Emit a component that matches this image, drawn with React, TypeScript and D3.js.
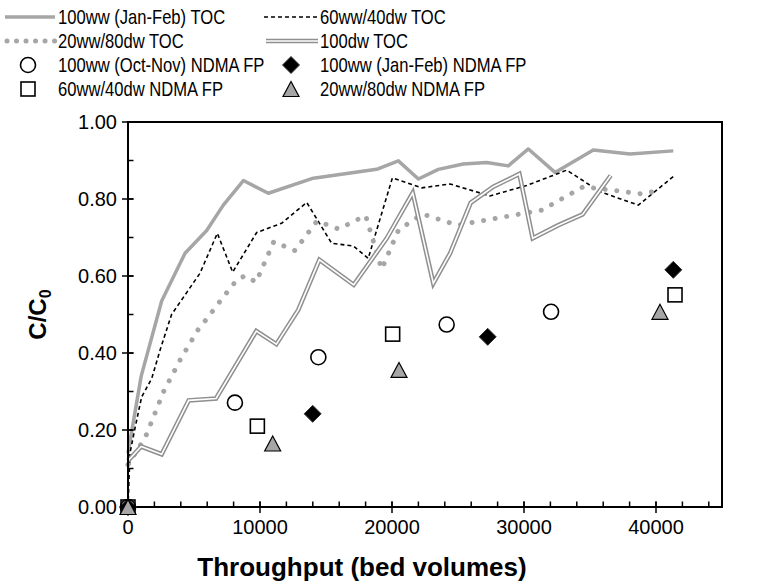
import React from 'react';
import * as d3 from 'd3';

// ---- data (throughput in bed volumes, C/C0) ----
const toc100wwJanFeb: [number, number][] = [
  [0, 0.14], [1000, 0.34], [2550, 0.535], [4320, 0.659], [5960, 0.718], [7220, 0.784],
  [8740, 0.848], [10630, 0.815], [14040, 0.854], [18840, 0.877], [20480, 0.899],
  [22000, 0.852], [23510, 0.877], [25400, 0.891], [27170, 0.895], [28810, 0.886],
  [30330, 0.93], [32350, 0.869], [35250, 0.927], [38030, 0.917], [41310, 0.925],
];
const toc60ww40dw: [number, number][] = [
  [0, 0.0], [150, 0.14], [530, 0.205], [1035, 0.286], [1800, 0.334], [2450, 0.41],
  [3300, 0.5], [5450, 0.607], [6770, 0.711], [7930, 0.61], [9750, 0.713], [11640, 0.737],
  [13540, 0.791], [15430, 0.685], [17070, 0.678], [18200, 0.646], [20030, 0.855],
  [22250, 0.829], [24400, 0.839], [27420, 0.808], [30200, 0.835], [33240, 0.875],
  [35760, 0.819], [38660, 0.784], [41440, 0.862],
];
const toc20ww80dw: [number, number][] = [
  [0, 0.11], [1300, 0.18], [2700, 0.3], [4000, 0.385], [5300, 0.46], [6000, 0.49],
  [7100, 0.54], [8250, 0.59], [8900, 0.601], [9700, 0.584], [11040, 0.689], [12650, 0.666],
  [14320, 0.743], [15960, 0.722], [18000, 0.757], [19220, 0.618], [20500, 0.72],
  [22300, 0.761], [24950, 0.732], [31340, 0.771], [34500, 0.832], [39000, 0.813],
  [40000, 0.821],
];
const toc100dw: [number, number][] = [
  [0, 0.12], [1000, 0.157], [2550, 0.137], [4600, 0.277], [6670, 0.282], [9720, 0.457],
  [11240, 0.423], [12900, 0.512], [14500, 0.642], [17100, 0.577], [19600, 0.698],
  [21570, 0.816], [23130, 0.581], [24400, 0.659], [25960, 0.79], [27680, 0.832],
  [29650, 0.865], [30660, 0.698], [32600, 0.732], [34440, 0.76], [36570, 0.861],
];
const ndma100wwOctNov: [number, number][] = [[0, 0], [8100, 0.271], [14420, 0.389], [24140, 0.474], [32050, 0.507]];
const ndma100wwJanFeb: [number, number][] = [[0, 0], [13990, 0.242], [27250, 0.442], [41310, 0.616]];
const ndma60ww40dw: [number, number][] = [[0, 0], [9800, 0.21], [20050, 0.449], [41440, 0.551]];
const ndma20ww80dw: [number, number][] = [[0, 0], [10960, 0.165], [20530, 0.356], [40300, 0.507]];

const xTicks = [0, 10000, 20000, 30000, 40000];
const yTicks = [0, 0.2, 0.4, 0.6, 0.8, 1.0];
const xMinor = d3.range(0, 45001, 2000);
const yMinor = d3.range(0, 1.001, 0.1);

const W = 776, H = 587;
const L = 128, R = 722, T = 122, B = 507;
const FONT = '"Liberation Sans", Arial, sans-serif';
const GRAY = '#a6a6a6';
const DGRAY = '#8f8f8f';

const x = d3.scaleLinear().domain([0, 45000]).range([L, R]);
const y = d3.scaleLinear().domain([0, 1]).range([B, T]);
const line = d3.line<[number, number]>().x(d => x(d[0])).y(d => y(d[1]));

function Circle({ cx, cy }: { cx: number; cy: number }) {
  return <circle cx={cx} cy={cy} r={7.5} fill="none" stroke="#000" strokeWidth={1.6} />;
}
function Diamond({ cx, cy }: { cx: number; cy: number }) {
  const s = 8.5;
  return <path d={`M${cx},${cy - s}L${cx + s},${cy}L${cx},${cy + s}L${cx - s},${cy}Z`} fill="#000" stroke="#333" strokeWidth={1} />;
}
function Square({ cx, cy }: { cx: number; cy: number }) {
  const s = 7;
  return <rect x={cx - s} y={cy - s} width={2 * s} height={2 * s} fill="none" stroke="#000" strokeWidth={1.6} />;
}
function Triangle({ cx, cy }: { cx: number; cy: number }) {
  const w = 8, h = 7.5;
  return <path d={`M${cx},${cy - h}L${cx + w},${cy + h}L${cx - w},${cy + h}Z`} fill={GRAY} stroke="#000" strokeWidth={1.2} />;
}

function DoubleLine({ d }: { d: string }) {
  return (
    <g fill="none" strokeLinejoin="miter">
      <path d={d} stroke={DGRAY} strokeWidth={4.6} />
      <path d={d} stroke="#fff" strokeWidth={1.6} />
    </g>
  );
}

function LegendText({ x0, y0, label }: { x0: number; y0: number; label: string }) {
  return (
    <text transform={`translate(${x0},${y0}) scale(0.83,1)`} dy="0.36em" fontSize={20} fill="#000">{label}</text>
  );
}

export default function App() {
  const r1 = 17, r2 = 41, r3 = 65, r4 = 89;
  const c1 = 58, c2 = 320;
  return (
    <svg width={W} height={H} style={{ position: 'absolute', left: 0, top: 0, background: '#fff' }} fontFamily={FONT}>
      <rect width={W} height={H} fill="#fff" />
      {/* series lines */}
      <path d={line(toc100wwJanFeb)!} fill="none" stroke={GRAY} strokeWidth={3.5} strokeLinejoin="round" />
      <path d={line(toc60ww40dw)!} fill="none" stroke="#000" strokeWidth={1.6} strokeDasharray="4 3" />
      <path d={line(toc20ww80dw)!} fill="none" stroke={GRAY} strokeWidth={5} strokeLinecap="round" strokeDasharray="0.01 11.7" />
      <DoubleLine d={line(toc100dw)!} />

      {/* axes & frame */}
      <rect x={L} y={T} width={R - L} height={B - T} fill="none" stroke="#000" strokeWidth={2} />
      {xMinor.map(v => <line key={'xm' + v} x1={x(v)} x2={x(v)} y1={B} y2={B - 5.5} stroke="#000" strokeWidth={1.5} />)}
      {xTicks.map(v => <line key={'xt' + v} x1={x(v)} x2={x(v)} y1={B - 5.5} y2={B + 6} stroke="#000" strokeWidth={1.5} />)}
      {yMinor.map(v => <line key={'ym' + v} x1={L} x2={L + 5.5} y1={y(v)} y2={y(v)} stroke="#000" strokeWidth={1.5} />)}
      {yTicks.map(v => <line key={'yt' + v} x1={L - 6} x2={L + 5.5} y1={y(v)} y2={y(v)} stroke="#000" strokeWidth={1.5} />)}

      {xTicks.map(v => (
        <text key={'xl' + v} x={x(v)} y={B + 27} textAnchor="middle" fontSize={20} fill="#000">{String(v)}</text>
      ))}
      {yTicks.map(v => (
        <text key={'yl' + v} x={L - 11} y={y(v)} dy="0.35em" textAnchor="end" fontSize={20} fill="#000">{v.toFixed(2)}</text>
      ))}
      <text x={362} y={576} textAnchor="middle" fontSize={26} fontWeight="bold" fill="#000">Throughput (bed volumes)</text>
      <text transform={`translate(46,${(T + B) / 2}) rotate(-90)`} textAnchor="middle" fontSize={24} fontWeight="bold" fill="#000">
        C/C<tspan fontSize={16} dy="5">0</tspan>
      </text>

      {/* markers */}
      {ndma100wwOctNov.map((d, i) => <Circle key={'c' + i} cx={x(d[0])} cy={y(d[1])} />)}
      {ndma100wwJanFeb.map((d, i) => <Diamond key={'d' + i} cx={x(d[0])} cy={y(d[1])} />)}
      {ndma60ww40dw.map((d, i) => <Square key={'s' + i} cx={x(d[0])} cy={y(d[1])} />)}
      {ndma20ww80dw.map((d, i) => <Triangle key={'t' + i} cx={x(d[0])} cy={y(d[1])} />)}

      {/* legend */}
      <g>
        <line x1={5} x2={55} y1={r1} y2={r1} stroke={GRAY} strokeWidth={3.5} />
        <LegendText x0={c1} y0={r1} label="100ww (Jan-Feb) TOC" />
        <line x1={264} x2={318} y1={r1} y2={r1} stroke="#000" strokeWidth={1.6} strokeDasharray="4 3" />
        <LegendText x0={c2} y0={r1} label="60ww/40dw TOC" />
        <line x1={7} x2={55} y1={r2} y2={r2} stroke={GRAY} strokeWidth={5} strokeLinecap="round" strokeDasharray="0.01 9.5" />
        <LegendText x0={c1} y0={r2} label="20ww/80dw TOC" />
        <DoubleLine d={`M266,${r2}L318,${r2}`} />
        <LegendText x0={c2} y0={r2} label="100dw TOC" />
        <Circle cx={28} cy={r3} />
        <LegendText x0={c1} y0={r3} label="100ww (Oct-Nov) NDMA FP" />
        <Diamond cx={291} cy={r3} />
        <LegendText x0={c2} y0={r3} label="100ww (Jan-Feb) NDMA FP" />
        <Square cx={28} cy={r4} />
        <LegendText x0={c1} y0={r4} label="60ww/40dw NDMA FP" />
        <Triangle cx={291} cy={r4} />
        <LegendText x0={c2} y0={r4} label="20ww/80dw NDMA FP" />
      </g>
    </svg>
  );
}
